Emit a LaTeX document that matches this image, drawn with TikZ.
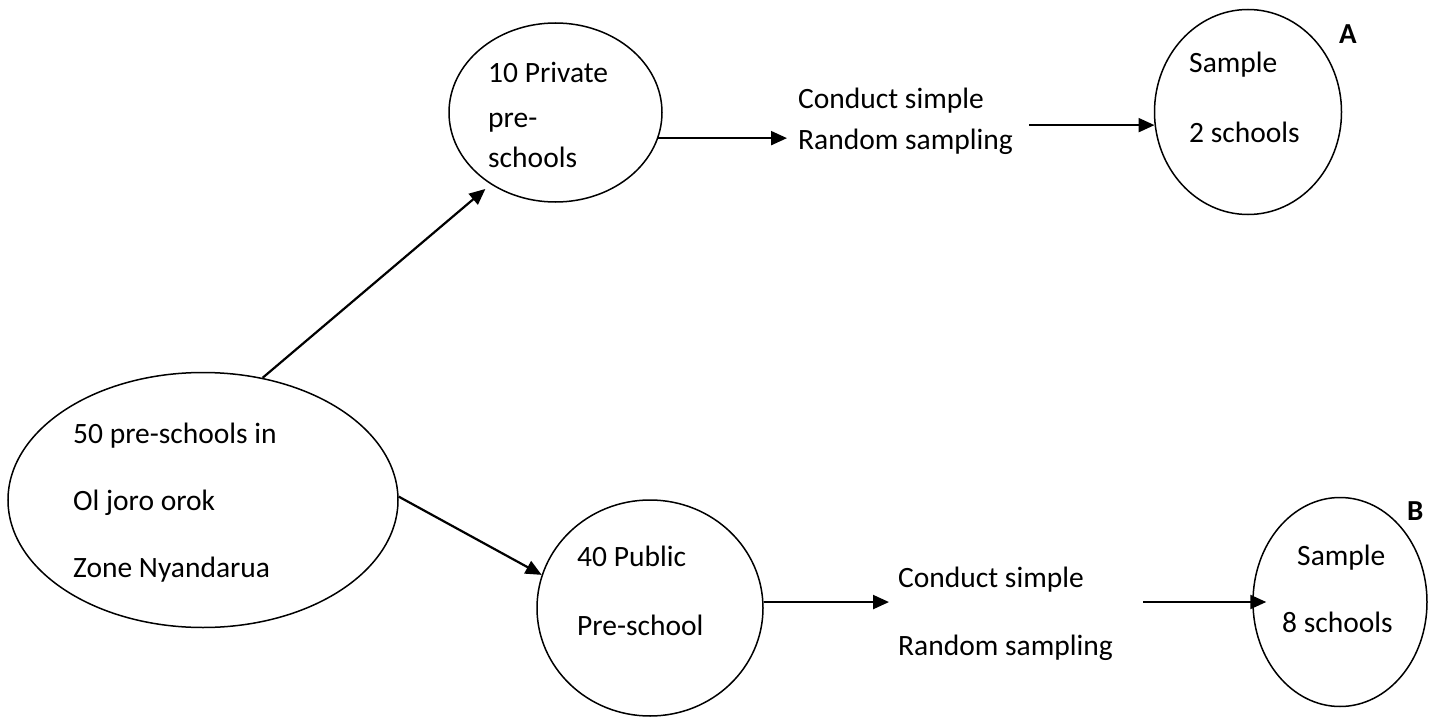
\documentclass[tikz,border=0pt]{standalone}
\usepackage{fontspec}
\setmainfont{Carlito}
\usetikzlibrary{shapes.geometric,arrows.meta}
\tikzset{
  oval/.style={draw, ellipse, inner sep=0pt, line width=1.5pt},
  txt/.style={anchor=base west, inner sep=0pt, font=\fontsize{29.5}{35}\selectfont},
  lbl/.style={anchor=base west, inner sep=0pt, font=\fontsize{29}{35}\selectfont\bfseries},
  arr/.style={line width=2.2pt, -{Triangle[length=16pt,width=14pt]}}
}
\begin{document}
\begin{tikzpicture}[x=1pt,y=-1pt]
\useasboundingbox (0,0) rectangle (1436,717);
% ellipses
\node[oval, minimum width=390pt, minimum height=255pt] (e1) at (203,500) {};
\node[oval, minimum width=213pt, minimum height=179pt] (e2) at (555.5,112.5) {};
\node[oval, minimum width=187pt, minimum height=205pt] (e3) at (1248,112) {};
\node[oval, minimum width=226pt, minimum height=216pt] (e4) at (650,608) {};
\node[oval, minimum width=174pt, minimum height=209pt] (e5) at (1340,602) {};
% texts
\node[txt] (t1a) at (73,443) {50 pre-schools in};
\node[txt] (t1b) at (73,510) {Ol joro orok};
\node[txt] (t1c) at (73,577) {Zone Nyandarua};
\node[txt] (t2a) at (488,83) {10 Private};
\node[txt] (t2b) at (488,127) {pre-};
\node[txt] (t2c) at (488,167) {schools};
\node[txt] (c1a) at (798,108) {Conduct simple};
\node[txt] (c1b) at (798,149) {Random sampling};
\node[txt] (t3a) at (1189,73) {Sample};
\node[txt] (t3b) at (1189,142) {2 schools};
\node[lbl] (lA) at (1339,44) {A};
\node[txt] (t4a) at (577,566) {40 Public};
\node[txt] (t4b) at (577,635) {Pre-school};
\node[txt] (c2a) at (898,587) {Conduct simple};
\node[txt] (c2b) at (898,655) {Random sampling};
\node[txt] (t5a) at (1297,565) {Sample};
\node[txt] (t5b) at (1282,632) {8 schools};
\node[lbl] (lB) at (1407,520) {B};
% connectors
\draw[arr, shorten >=7pt] (e1.64) -- (e2.228);
\draw[arr] (e1.1) -- (e4.163);
\draw[arr, shorten >=11pt] (e2.-14) -- (e2.-14 -| c1b.west);
\draw[arr, shorten <=16pt] (e3.188 -| c1b.east) -- (e3.188);
\draw[arr, shorten >=9pt] (e4.3) -- (e4.3 -| c2a.west);
\draw[arr, shorten <=30pt, shorten >=-14pt] (e5.180 -| c2b.east) -- (e5.180);
\end{tikzpicture}
\end{document}
